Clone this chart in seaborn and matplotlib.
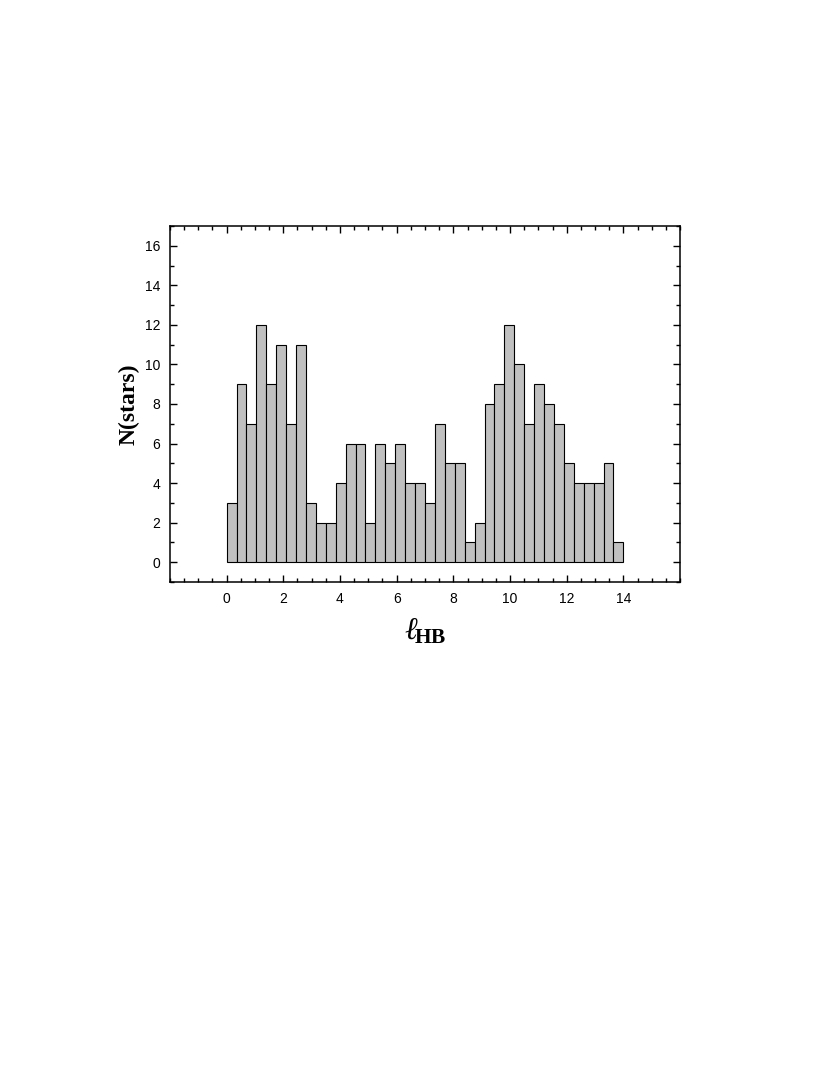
import numpy as np
import pandas as pd
import matplotlib
matplotlib.use("Agg")
import matplotlib.pyplot as plt
import seaborn as sns
from matplotlib.ticker import MultipleLocator

# bin layout and counts
bin_width = 0.35
bin_start = 0.0
counts = [3, 9, 7, 12, 9, 11, 7, 11, 3, 2, 2, 4, 6, 6, 2, 6, 5, 6, 4, 4,
          3, 7, 5, 5, 1, 2, 8, 9, 12, 10, 7, 9, 8, 7, 5, 4, 4, 4, 5, 1]
x_ticks = [0, 2, 4, 6, 8, 10, 12, 14]
y_ticks = [0, 2, 4, 6, 8, 10, 12, 14, 16]

bin_end = bin_start + bin_width * len(counts)
centers = bin_start + bin_width * (np.arange(len(counts)) + 0.5)
df = pd.DataFrame({"lhb": centers, "n": counts})

sns.set_style("ticks", {"axes.edgecolor": "black", "xtick.color": "black",
                        "ytick.color": "black", "text.color": "black",
                        "axes.labelcolor": "black"})
plt.rcParams["font.family"] = ["Liberation Sans", "DejaVu Sans"]
plt.rcParams["mathtext.fontset"] = "custom"
plt.rcParams["mathtext.rm"] = "Liberation Serif"
plt.rcParams["mathtext.it"] = "Liberation Serif:italic"
plt.rcParams["mathtext.bf"] = "Liberation Serif:bold"

fig = plt.figure(figsize=(8.3, 10.85), dpi=100)
ax = fig.add_axes([0.2048, 0.4636, 0.6145, 0.3281])

sns.histplot(data=df, x="lhb", weights="n", binwidth=bin_width,
             binrange=(bin_start, bin_end), ax=ax,
             color="#c0c0c0", edgecolor="black", linewidth=0.8, alpha=1.0)

ax.set_xlim(-2, 16)
ax.set_ylim(-1, 17)
ax.set_xticks(x_ticks)
ax.set_yticks(y_ticks)
ax.xaxis.set_minor_locator(MultipleLocator(0.5))
ax.yaxis.set_minor_locator(MultipleLocator(1))
ax.tick_params(which="both", direction="in", top=True, right=True,
               labelsize=10, width=1, pad=7, colors="black")
ax.tick_params(which="major", length=5)
ax.tick_params(which="minor", length=3)
for s in ax.spines.values():
    s.set_linewidth(1.1)
    s.set_color("black")

ax.set_ylabel("N(stars)", fontsize=17, fontweight="bold",
              family="Liberation Serif", labelpad=4, color="black")
ax.set_xlabel(r"$\ell_{\!\mathbf{HB}}$", fontsize=22, labelpad=8,
              color="black")

fig.savefig("out.png", dpi=100)
